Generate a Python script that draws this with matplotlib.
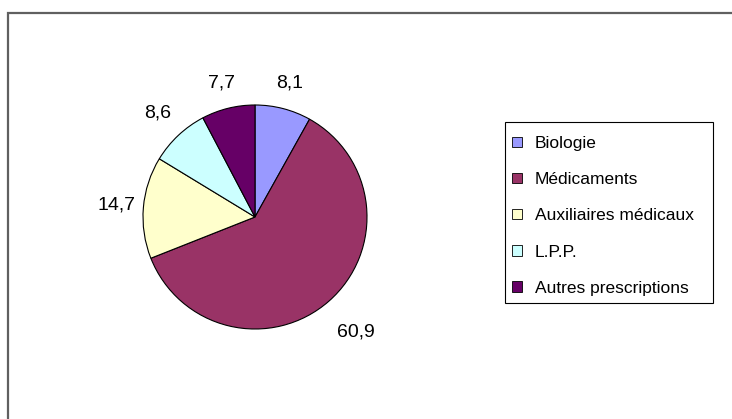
import numpy as np
import matplotlib
matplotlib.use("Agg")
import matplotlib.pyplot as plt
from matplotlib.patches import Rectangle, Patch

plt.rcParams["font.family"] = ["Liberation Sans", "DejaVu Sans"]

# ============================
# Données
# ============================
categories = ["Biologie", "Médicaments", "Auxiliaires médicaux", "L.P.P.",
              "Autres prescriptions"]
values = [8.1, 60.9, 14.7, 8.6, 7.7]
labels = ["8,1", "60,9", "14,7", "8,6", "7,7"]
colors = ["#9999FF", "#993366", "#FFFFCC", "#CCFFFF", "#660066"]
label_dist = [1.24, 1.37, 1.24, 1.27, 1.23]

W, H = 732, 419
fig = plt.figure(figsize=(W / 100, H / 100), dpi=100)

# cadre extérieur (coupé à droite et en bas)
fig.patches.append(Rectangle((8 / W, -0.1), 1.2, (H - 13) / H + 0.1,
                             transform=fig.transFigure, fill=False,
                             edgecolor="#606060", linewidth=1.6))

# ============================
# Camembert
# ============================
cx, cy, half = 255, H - 217, 130
ax = fig.add_axes([(cx - half) / W, (cy - half) / H, 2 * half / W, 2 * half / H])
R = 112
wedges, _ = ax.pie(values, colors=colors, startangle=90, counterclock=False,
                   radius=R, wedgeprops=dict(edgecolor="black", linewidth=0.8))
ax.set_xlim(-half, half)
ax.set_ylim(-half, half)
ax.set_aspect("equal")
ax.axis("off")

for w, lab, d in zip(wedges, labels, label_dist):
    ang = np.deg2rad((w.theta1 + w.theta2) / 2)
    ax.text(d * R * np.cos(ang), d * R * np.sin(ang), lab, ha="center",
            va="center", fontsize=14, clip_on=False)

# ============================
# Légende (cadre dessiné à part)
# ============================
fig.patches.append(Rectangle((505 / W, 1 - 303 / H), 208 / W, 181 / H,
                             transform=fig.transFigure, fill=False,
                             edgecolor="black", linewidth=0.8))
handles = [Patch(facecolor=c, edgecolor="black", linewidth=0.6) for c in colors]
leg = fig.legend(handles, categories, loc="upper left",
                 bbox_to_anchor=(512 / W, 1 - 136 / H),
                 borderaxespad=0, borderpad=0, fontsize=12.5, frameon=False,
                 handlelength=0.55, handleheight=0.55, handletextpad=0.75,
                 labelspacing=1.22)

plt.savefig("out.png", dpi=100)
plt.close()
